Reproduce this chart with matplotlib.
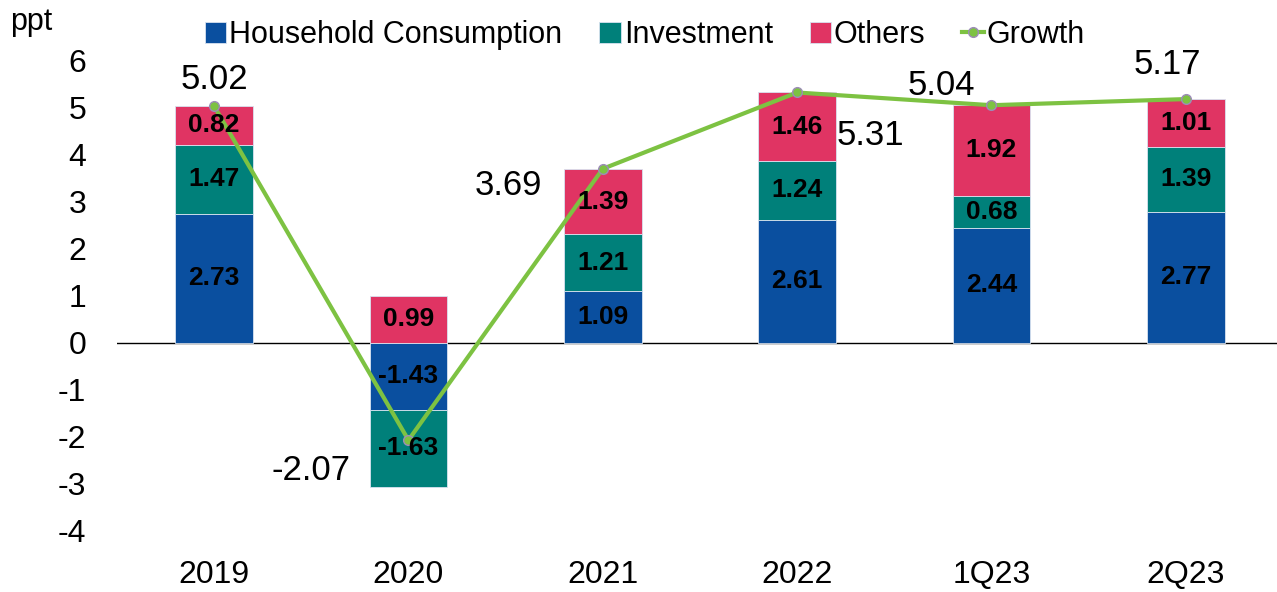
import matplotlib.pyplot as plt
import numpy as np

plt.rcParams["font.family"] = ["Liberation Sans", "DejaVu Sans"]
plt.rcParams["axes.unicode_minus"] = False

categories = ["2019", "2020", "2021", "2022", "1Q23", "2Q23"]
household = [2.73, -1.43, 1.09, 2.61, 2.44, 2.77]
investment = [1.47, -1.63, 1.21, 1.24, 0.68, 1.39]
others = [0.82, 0.99, 1.39, 1.46, 1.92, 1.01]
growth = [5.02, -2.07, 3.69, 5.31, 5.04, 5.17]

# label offsets for the growth values, in points
growth_offsets = [(0, 19), (-70, -22), (-68, -12), (53, -31), (-36, 14), (-13, 25)]

colors = {"hc": "#0A4F9F", "inv": "#00807A", "oth": "#E03463", "growth": "#7DC242"}

fig = plt.figure(figsize=(12.77, 5.92), dpi=100)
ax = fig.add_axes([117 / 1277, 61 / 592, 1 - 117 / 1277, 471 / 592])

x = np.arange(len(categories))
width = 0.4

pos_base = np.zeros(len(x))
neg_base = np.zeros(len(x))
series = [
    ("Household Consumption", household, colors["hc"]),
    ("Investment", investment, colors["inv"]),
    ("Others", others, colors["oth"]),
]
for name, vals, col in series:
    vals = np.array(vals)
    bottoms = np.where(vals >= 0, pos_base, neg_base)
    ax.bar(x, vals, width, bottom=bottoms, color=col, edgecolor="#D8E2F0",
           linewidth=0.6, label=name, zorder=2)
    for xi, b, v in zip(x, bottoms, vals):
        ax.text(xi, b + v / 2, f"{v:.2f}", ha="center", va="center",
                fontsize=19, fontweight="bold", color="black", zorder=4)
    pos_base = np.where(vals >= 0, pos_base + vals, pos_base)
    neg_base = np.where(vals < 0, neg_base + vals, neg_base)

ax.plot(x, growth, color=colors["growth"], linewidth=3, marker="o",
        markersize=7, markerfacecolor=colors["growth"],
        markeredgecolor="#9C8CB8", markeredgewidth=1, label="Growth", zorder=3)
for xi, g, off in zip(x, growth, growth_offsets):
    ax.annotate(f"{g:.2f}", (xi, g), xytext=off, textcoords="offset points",
                ha="center", va="center", fontsize=25, color="black", zorder=5)

ax.axhline(0, color="black", linewidth=1, zorder=1)
ax.set_xlim(-0.5, 5.47)
ax.set_ylim(-4, 6)
ax.set_yticks(range(-4, 7))
ax.set_xticks(x)
ax.set_xticklabels(categories)
ax.tick_params(axis="both", length=0, labelsize=23)
ax.tick_params(axis="x", pad=21)
ax.tick_params(axis="y", pad=22)
for s in ax.spines.values():
    s.set_visible(False)

fig.text(10 / 1277, 1 - 22 / 592, "ppt", fontsize=22, ha="left", va="center")

handles, labels = ax.get_legend_handles_labels()
order = [1, 2, 3, 0]
ax.legend([handles[i] for i in order], [labels[i] for i in order],
          loc="center", bbox_to_anchor=(645 / 1277, 1 - 35 / 592),
          bbox_transform=fig.transFigure, ncol=4, frameon=False,
          fontsize=22, handlelength=0.7, handleheight=0.7, handletextpad=0.1,
          columnspacing=1.2, borderaxespad=0)

fig.savefig("out.png", dpi=100)
